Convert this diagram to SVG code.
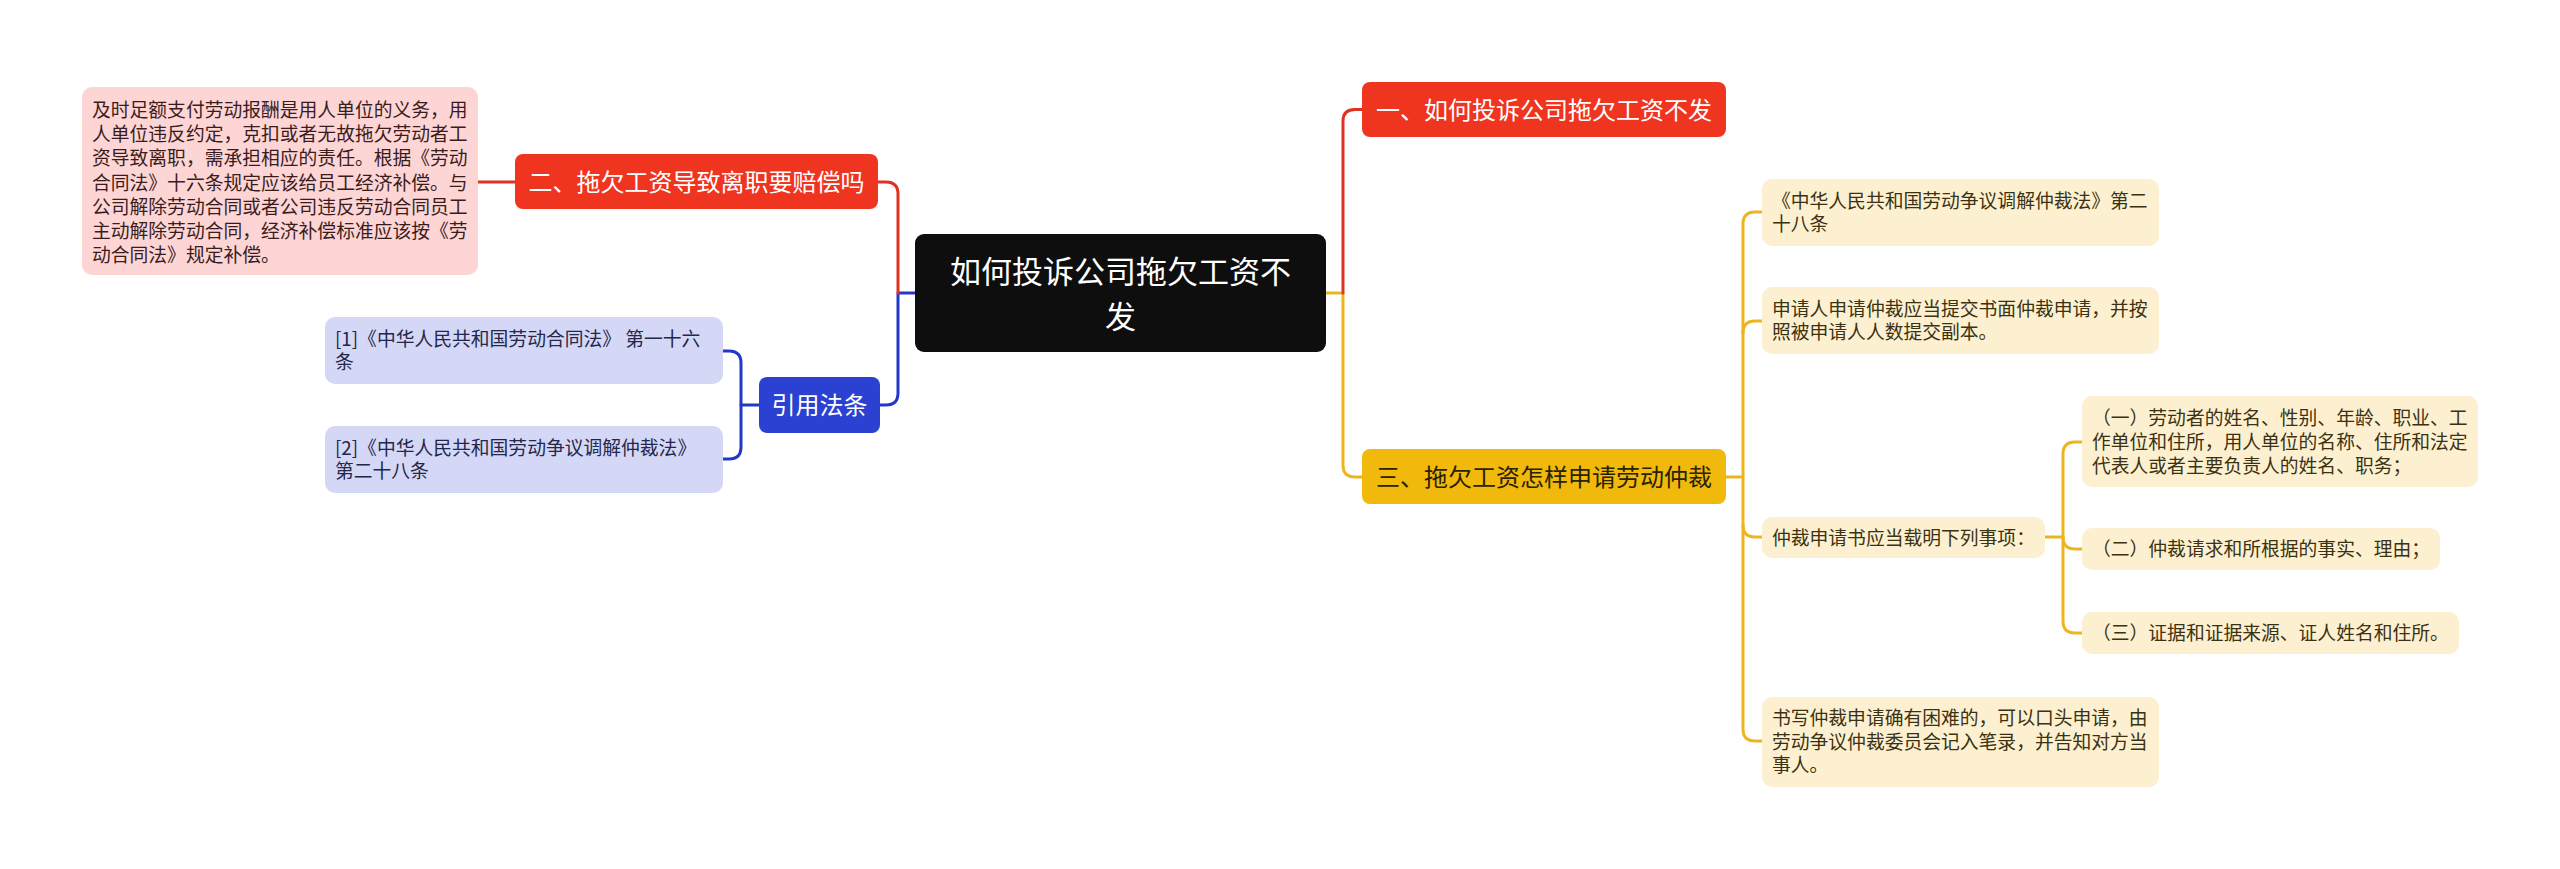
<svg xmlns="http://www.w3.org/2000/svg" width="2560" height="869" viewBox="0 0 2560 869">
<style>
text{font-family:"Noto Sans CJK SC","Noto Sans",sans-serif}
.c{fill:none;stroke-width:3;stroke-linejoin:round;stroke-linecap:round}
.cr{stroke:#e03220}.cy{stroke:#ecb520}.cb{stroke:#2338c8}
.t19{font-size:18.8px}
.t24{font-size:24px}
.pk{fill:#3a1c1c}.bl{fill:#24264a}.yl{fill:#3a3212}
.w{fill:#ffffff}
</style>
<rect width="2560" height="869" fill="#ffffff"/>
<g id="connectors">
<path class="c cy" d="M1326 293 H1343 V465 Q1343 477 1355 477 H1362"/>
<path class="c cr" d="M1343 293 V121 Q1343 109.5 1355 109.5 H1362"/>
<path class="c cb" d="M915 293 H898 V393 Q898 405 886 405 H880"/>
<path class="c cr" d="M898 293 V194 Q898 182 886 182 H878"/>
<path class="c cr" d="M515 182 H478"/>
<path class="c cb" d="M759 405 H741 V363 Q741 351 729 351 H723"/>
<path class="c cb" d="M741 405 V447 Q741 459 729 459 H723"/>
<path class="c cy" d="M1726 477 H1743 V224 Q1743 212 1755 212 H1762"/>
<path class="c cy" d="M1743 333 Q1743 321 1755 321 H1762"/>
<path class="c cy" d="M1743 477 V525 Q1743 537 1755 537 H1762"/>
<path class="c cy" d="M1743 525 V729 Q1743 741 1755 741 H1762"/>
<path class="c cy" d="M2045 537 H2063 V454 Q2063 442 2075 442 H2082"/>
<path class="c cy" d="M2063 537 Q2063 549 2075 549 H2082"/>
<path class="c cy" d="M2063 537 V621 Q2063 633 2075 633 H2082"/>
</g>
<g id="root">
<rect x="915" y="234" width="411" height="118" rx="9" fill="#0e0e0e"/>
<text class="w" x="1120.5" y="283" font-size="31" text-anchor="middle">如何投诉公司拖欠工资不</text>
<text class="w" x="1120.5" y="328" font-size="31" text-anchor="middle">发</text>
</g>
<g id="n1">
<rect x="1362" y="82" width="364" height="55" rx="8" fill="#ef3420"/>
<text class="w t24" x="1544" y="119" text-anchor="middle">一、如何投诉公司拖欠工资不发</text>
</g>
<g id="n2">
<rect x="515" y="154" width="363" height="55" rx="8" fill="#ef3420"/>
<text class="w t24" x="696.5" y="191" text-anchor="middle">二、拖欠工资导致离职要赔偿吗</text>
</g>
<g id="n2a">
<rect x="82" y="87" width="396" height="188" rx="10" fill="#fdd5d4"/>
<text class="t19 pk" x="92" y="117">及时足额支付劳动报酬是用人单位的义务，用</text>
<text class="t19 pk" x="92" y="141.2">人单位违反约定，克扣或者无故拖欠劳动者工</text>
<text class="t19 pk" x="92" y="165.4">资导致离职，需承担相应的责任。根据《劳动</text>
<text class="t19 pk" x="92" y="189.6">合同法》十六条规定应该给员工经济补偿。与</text>
<text class="t19 pk" x="92" y="213.8">公司解除劳动合同或者公司违反劳动合同员工</text>
<text class="t19 pk" x="92" y="238">主动解除劳动合同，经济补偿标准应该按《劳</text>
<text class="t19 pk" x="92" y="262.2">动合同法》规定补偿。</text>
</g>
<g id="nb">
<rect x="759" y="377" width="121" height="56" rx="8" fill="#2b41d1"/>
<text class="w t24" x="819.5" y="414" text-anchor="middle">引用法条</text>
</g>
<g id="nb1">
<rect x="325" y="317" width="398" height="67" rx="10" fill="#d4d8f6"/>
<text class="t19 bl" x="335" y="346">[1]《中华人民共和国劳动合同法》 第一十六</text>
<text class="t19 bl" x="335" y="369">条</text>
</g>
<g id="nb2">
<rect x="325" y="426" width="398" height="67" rx="10" fill="#d4d8f6"/>
<text class="t19 bl" x="335" y="455">[2]《中华人民共和国劳动争议调解仲裁法》</text>
<text class="t19 bl" x="335" y="478">第二十八条</text>
</g>
<g id="n3">
<rect x="1362" y="449" width="364" height="55" rx="8" fill="#f1b90c"/>
<text class="t24" fill="#2a2200" x="1544" y="486" text-anchor="middle">三、拖欠工资怎样申请劳动仲裁</text>
</g>
<g id="n3a">
<rect x="1762" y="179" width="397" height="67" rx="10" fill="#fdf0d0"/>
<text class="t19 yl" x="1772" y="208">《中华人民共和国劳动争议调解仲裁法》第二</text>
<text class="t19 yl" x="1772" y="231">十八条</text>
</g>
<g id="n3b">
<rect x="1762" y="287" width="397" height="67" rx="10" fill="#fdf0d0"/>
<text class="t19 yl" x="1772" y="316">申请人申请仲裁应当提交书面仲裁申请，并按</text>
<text class="t19 yl" x="1772" y="339">照被申请人人数提交副本。</text>
</g>
<g id="n3c">
<rect x="1762" y="517" width="283" height="41" rx="10" fill="#fdf0d0"/>
<text class="t19 yl" x="1772" y="544.5">仲裁申请书应当载明下列事项：</text>
</g>
<g id="n3c1">
<rect x="2082" y="396" width="396" height="91" rx="10" fill="#fdf0d0"/>
<text class="t19 yl" x="2092" y="425">（一）劳动者的姓名、性别、年龄、职业、工</text>
<text class="t19 yl" x="2092" y="449">作单位和住所，用人单位的名称、住所和法定</text>
<text class="t19 yl" x="2092" y="473">代表人或者主要负责人的姓名、职务；</text>
</g>
<g id="n3c2">
<rect x="2082" y="528" width="358" height="42" rx="10" fill="#fdf0d0"/>
<text class="t19 yl" x="2092" y="556">（二）仲裁请求和所根据的事实、理由；</text>
</g>
<g id="n3c3">
<rect x="2082" y="612" width="377" height="42" rx="10" fill="#fdf0d0"/>
<text class="t19 yl" x="2092" y="640">（三）证据和证据来源、证人姓名和住所。</text>
</g>
<g id="n3d">
<rect x="1762" y="697" width="397" height="90" rx="10" fill="#fdf0d0"/>
<text class="t19 yl" x="1772" y="725">书写仲裁申请确有困难的，可以口头申请，由</text>
<text class="t19 yl" x="1772" y="749">劳动争议仲裁委员会记入笔录，并告知对方当</text>
<text class="t19 yl" x="1772" y="772">事人。</text>
</g>
</svg>
